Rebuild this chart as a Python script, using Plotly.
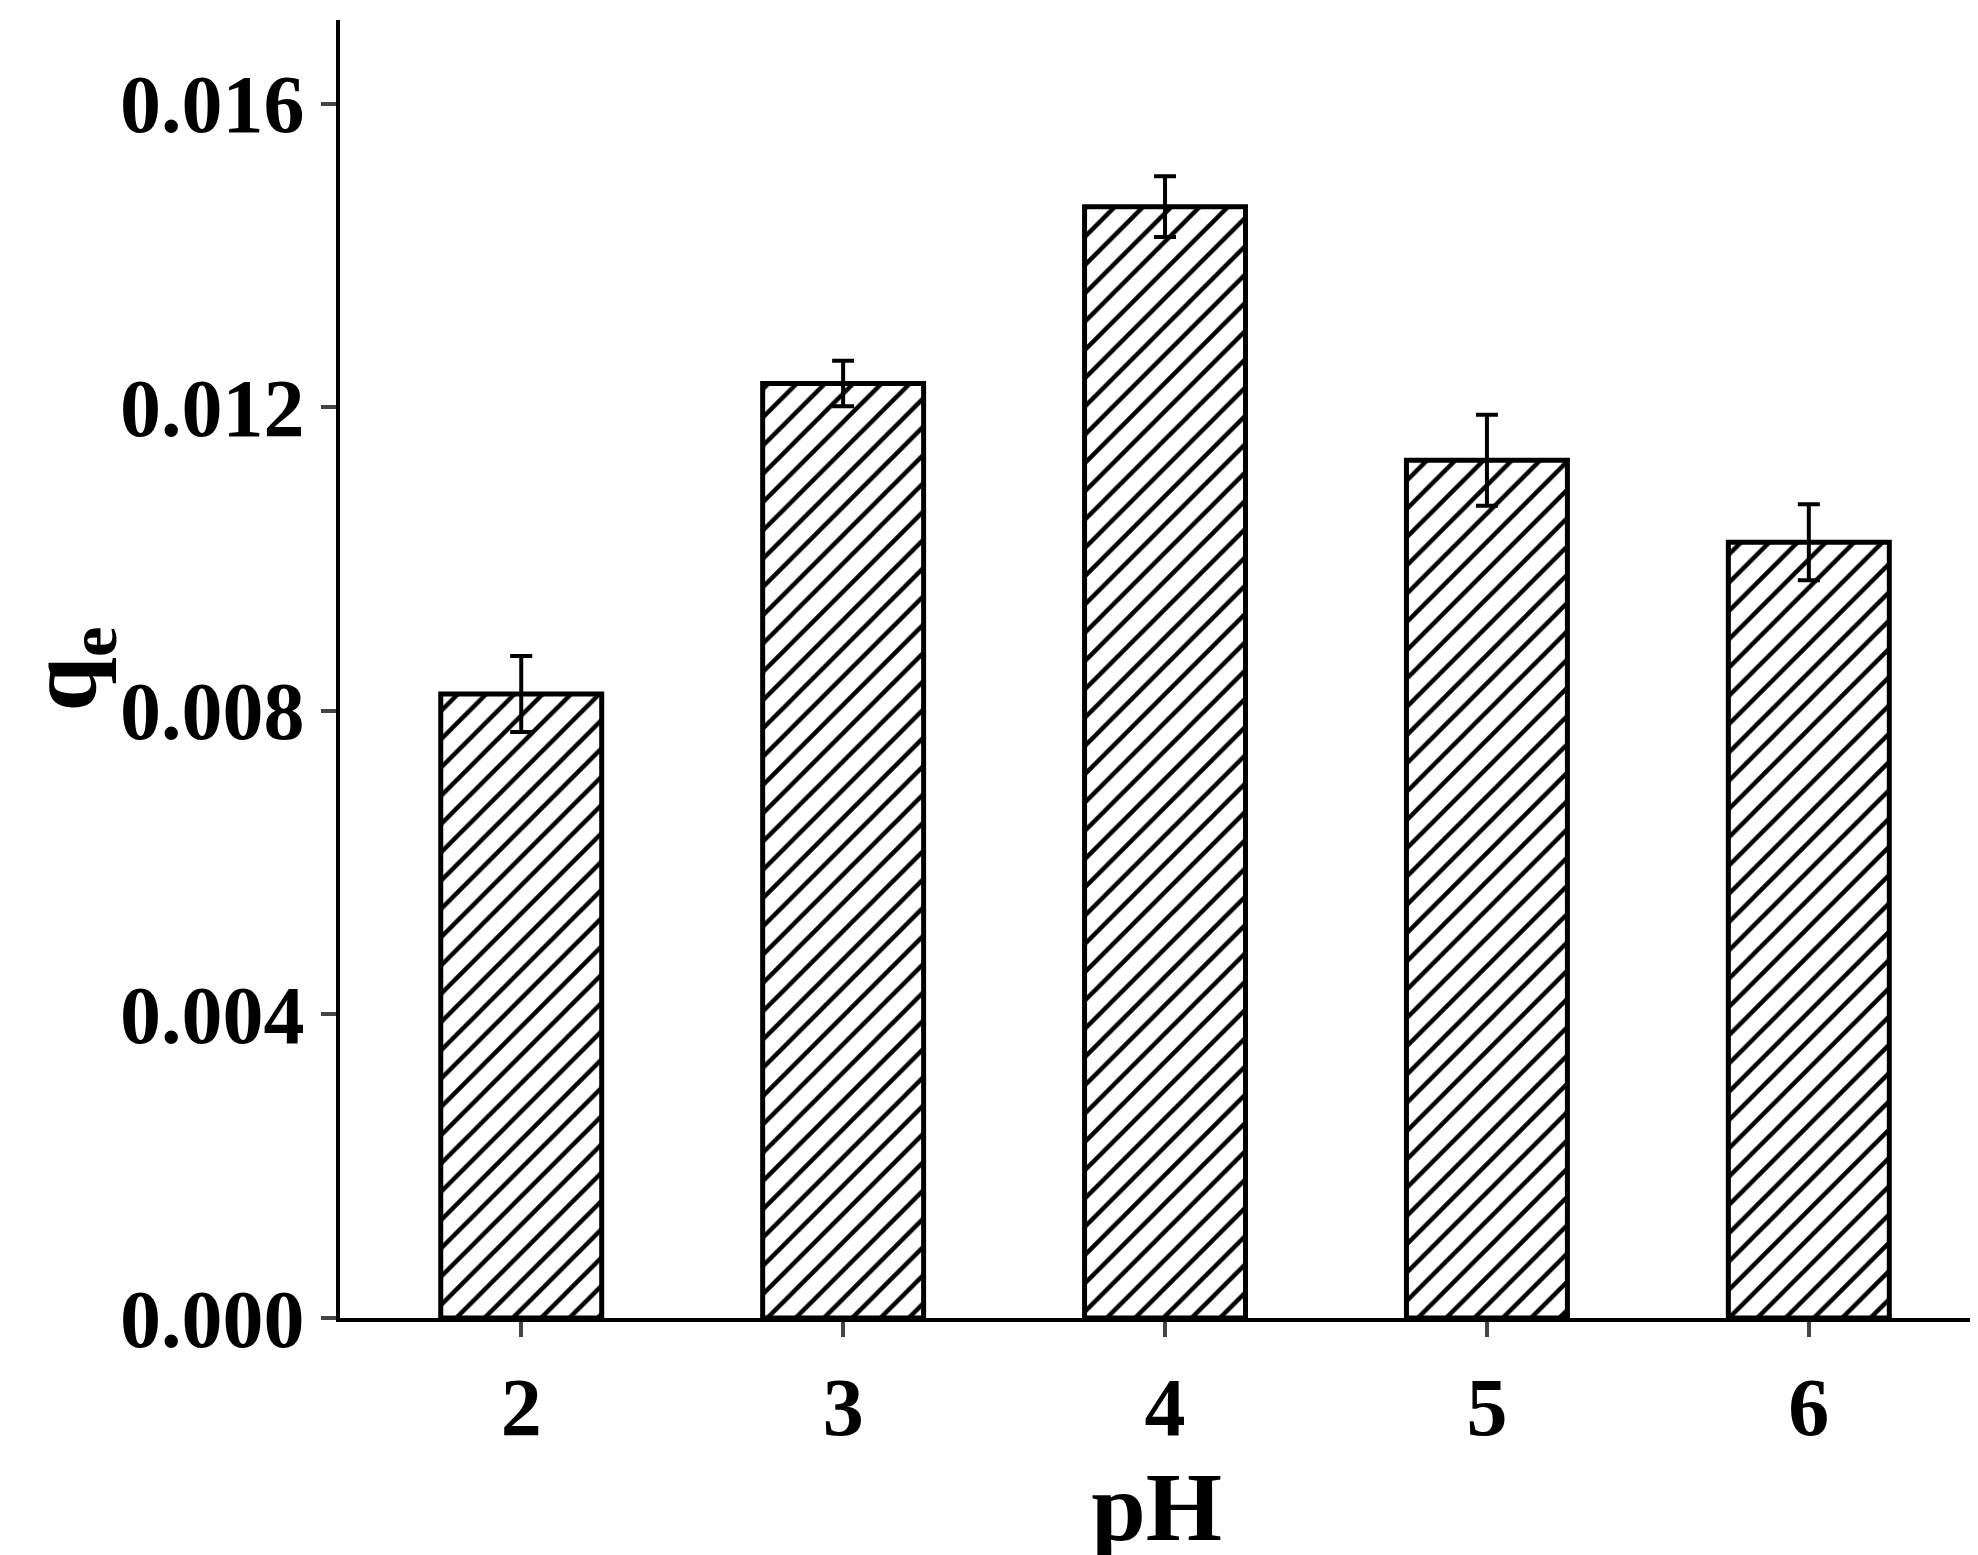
import plotly.graph_objects as go

ph = [2, 3, 4, 5, 6]
qe = [0.00822, 0.01231, 0.01464, 0.0113, 0.01022]
qe_err = [0.0005, 0.0003, 0.0004, 0.0006, 0.0005]

serif = "Times New Roman, Liberation Serif, serif"
tickfont = dict(family=serif, size=82, color="black", weight="bold")

fig = go.Figure()
fig.add_trace(go.Bar(
    x=ph, y=qe, width=0.5,
    marker=dict(color="white", line=dict(color="black", width=5),
                pattern=dict(shape="/", fgcolor="black", bgcolor="white",
                             fgopacity=1, size=20, solidity=0.22)),
    error_y=dict(type="data", array=qe_err, color="black", thickness=4, width=11),
))
fig.update_layout(
    width=1978, height=1555, plot_bgcolor="white", paper_bgcolor="white",
    margin=dict(l=332, r=13, t=12, b=245), showlegend=False,
    font=dict(family=serif, size=82, color="black"),
)
fig.update_xaxes(
    range=[1.437, 6.51], tickvals=ph, ticks="outside", ticklen=15, tickwidth=4,
    showline=True, linecolor="black", linewidth=4, showgrid=False,
    tickfont=tickfont,
    title=dict(text="<b>pH</b>", standoff=0),
)
fig.update_yaxes(
    range=[0, 0.0171], tickvals=[0, 0.004, 0.008, 0.012, 0.016],
    ticktext=["0.000", "0.004", "0.008", "0.012", "0.016"],
    ticks="outside", ticklen=15, tickwidth=4,
    showline=True, linecolor="black", linewidth=4, showgrid=False, zeroline=False,
    tickfont=tickfont,
    title=dict(text="<b>q<sub>e</sub></b>", standoff=5),
)
fig.write_html("out.html")
